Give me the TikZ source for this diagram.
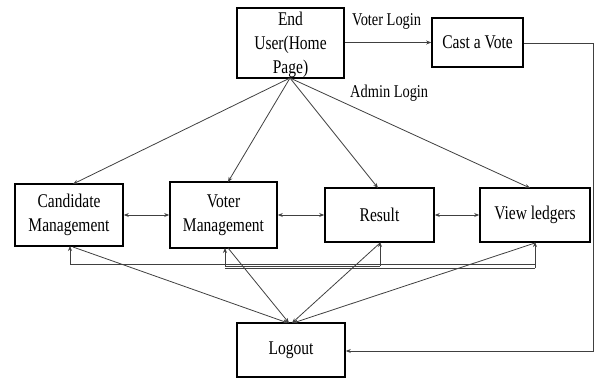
\documentclass[tikz,border=0pt]{standalone}
\usepackage{fontspec}
\setmainfont{Liberation Serif}
\newfontfamily\tallfont[FakeStretch=0.8]{Liberation Serif}
\usetikzlibrary{arrows.meta}
\begin{document}
\begin{tikzpicture}[x=1pt,y=-1pt,
  box/.style={draw,line width=1.6pt,inner sep=0pt,align=center,
    font=\tallfont\fontsize{19.4}{23.5}\selectfont},
  conn/.style={line width=0.8pt,draw=black!75,-{Stealth[length=5pt,width=4pt]}},
  both/.style={line width=0.8pt,draw=black!75,{Stealth[length=5pt,width=4pt]}-{Stealth[length=5pt,width=4pt]}},
  plain/.style={line width=0.8pt,draw=black!75},
  lbl/.style={font=\tallfont\fontsize{18}{20}\selectfont,inner sep=0pt}]
\useasboundingbox (0,0) rectangle (595,380);
\node[box,minimum width=107pt,minimum height=70pt] (eu) at (290.5,43) {};
\node[align=center,inner sep=0pt,font=\tallfont\fontsize{19.4}{24}\selectfont] (eut) at (290.5,45) {End\\User(Home\\Page)};
\node[box,minimum width=91pt,minimum height=49pt] (cast) at (477.5,42.5) {Cast a Vote};
\node[box,minimum width=108pt,minimum height=62pt] (cand) at (69,215) {Candidate\\Management};
\node[box,minimum width=107pt,minimum height=66pt] (voter) at (223.5,215) {Voter\\Management};
\node[box,minimum width=109pt,minimum height=54pt] (res) at (379.5,215) {Result};
\node[box,minimum width=110pt,minimum height=54pt] (led) at (535,215) {View ledgers};
\node[box,minimum width=108pt,minimum height=54pt] (lo) at (291,350) {Logout};
\node[lbl,anchor=west] (vl) at (352,21) {Voter Login};
\node[lbl,anchor=west] (al) at (350,93) {Admin Login};
% login arrows
\draw[conn] (eu.east |- cast.west) -- (cast.west);
\coordinate (eub) at (290,78);
\draw[conn] (eub) -- (73,184);
\draw[conn] (eub) -- (228,182);
\draw[conn] (eub) -- (378,188);
\draw[conn] (eub) -- (530,188);
% lateral
\draw[both] (cand.east) -- (voter.west);
\draw[both] (voter.east) -- (res.west);
\draw[both] (res.east) -- (led.west);
% feedback lines
\draw[conn] (70,264) -- (70,246);
\draw[conn] (225,266) -- (225,248);
\draw[conn] (380,266) -- (380,242);
\draw[conn] (535,268) -- (535,242);
\draw[plain] (70,264) -- (535,264);
\draw[plain] (225,266) -- (380,266);
\draw[plain] (225,268) -- (535,268);
% to logout
\draw[conn] (73,247) -- (288,323);
\draw[conn] (228,248) -- (289,323);
\draw[conn] (380,243) -- (292,323);
\draw[conn] (535,243) -- (293,323);
% cast a vote to logout
\coordinate (r1) at (593.5,43);
\coordinate (r2) at (593.5,351);
\draw[conn] (cast.east |- r1) -- (r1) -- (r2) -- (lo.east |- r2);
\end{tikzpicture}
\end{document}
